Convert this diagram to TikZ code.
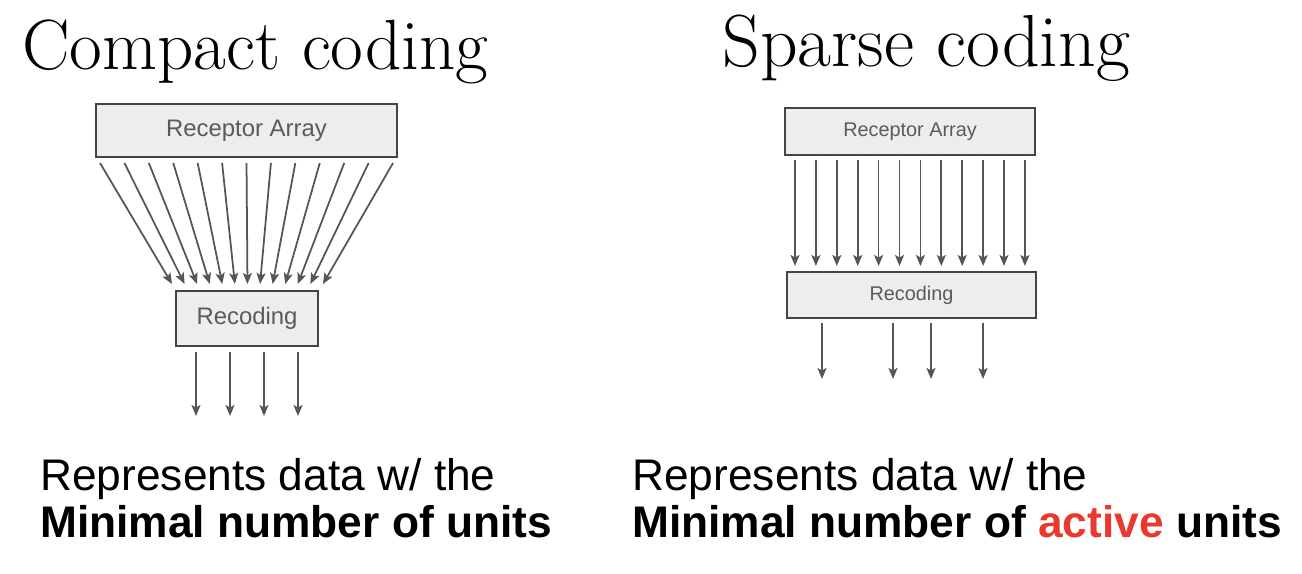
\documentclass[tikz,border=0pt]{standalone}
\usepackage{fontspec}
\newfontfamily\arialfont{Liberation Sans}
\usetikzlibrary{arrows.meta}
\definecolor{boxfill}{HTML}{EDEDED}
\definecolor{boxline}{HTML}{444444}
\definecolor{boxtext}{HTML}{5A5A5A}
\definecolor{arrowgray}{HTML}{555555}
\definecolor{activered}{HTML}{E8392C}
\tikzset{
  graybox/.style={draw=boxline, line width=1.3pt, fill=boxfill, inner sep=0pt, text=boxtext},
  bigbox/.style={graybox, font=\arialfont\fontsize{13.6}{15}\selectfont},
  smallbox/.style={graybox, font=\arialfont\fontsize{11.3}{13}\selectfont},
  feed/.style={draw=arrowgray, line width=1pt, -{Stealth[length=0.22cm,width=0.18cm,inset=0.05cm]}},
  title/.style={anchor=base west, inner sep=0pt, font=\fontsize{40.5}{44}\selectfont},
  caption/.style={anchor=base west, inner sep=0pt, font=\arialfont\fontsize{25.2}{28}\selectfont},
}
\begin{document}
\begin{tikzpicture}[x=0.02cm,y=-0.02cm]
\useasboundingbox (0,0) rectangle (1302,574);
% titles
\node[title] (t1) at (22,70) {Compact coding};
\node[title, font=\fontsize{42}{46}\selectfont] (t2) at (722,67) {Sparse coding};
% left diagram
\node[bigbox, minimum width=6.02cm, minimum height=1.06cm] (lra) at (246.5,130.5) {Receptor Array};
\node[bigbox, minimum width=2.84cm, minimum height=1.1cm] (lrec) at (247,318.5) {Recoding};
\foreach \i in {0,...,12}{
  \coordinate (ls\i) at ({100+24.42*\i},163);
  \coordinate (le\i) at ({172+12.58*\i},284);
  \draw[feed] (ls\i) -- (le\i);
}
\foreach \x [count=\j] in {196,230,264,298}{
  \coordinate (lo\j) at (\x,352);
  \coordinate (lq\j) at (\x,416);
  \draw[feed] (lo\j) -- (lq\j);
}
% right diagram
\node[smallbox, minimum width=5.0cm, minimum height=0.94cm] (rra) at (910,131.5) {Receptor Array};
\node[smallbox, minimum width=4.98cm, minimum height=0.92cm] (rrec) at (911.5,295) {Recoding};
\foreach \i in {0,...,11}{
  \coordinate (rs\i) at ({795+20.9*\i},160);
  \coordinate (re\i) at ({795+20.9*\i},266);
  \draw[feed] (rs\i) -- (re\i);
}
\foreach \x [count=\j] in {822,893,931,983}{
  \coordinate (ro\j) at (\x,323);
  \coordinate (rq\j) at (\x,379);
  \draw[feed] (ro\j) -- (rq\j);
}
% captions
\node[caption] (c1a) at (40,490) {Represents data w/ the};
\node[caption] (c1b) at (40,537) {\bfseries Minimal number of units};
\node[caption] (c2a) at (632,490) {Represents data w/ the};
\node[caption] (c2b) at (632,537) {\bfseries Minimal number of \textcolor{activered}{active} units};
\end{tikzpicture}
\end{document}
